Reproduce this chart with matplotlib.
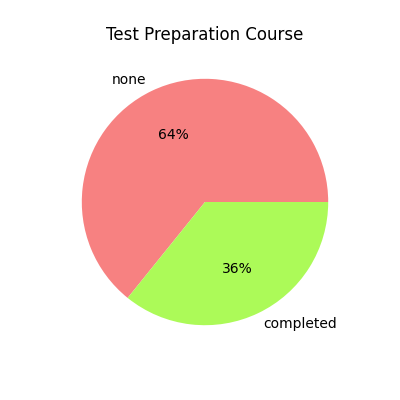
import matplotlib
matplotlib.use('Agg')
import matplotlib.pyplot as plt

labels = ['none', 'completed']
counts = [642, 358]
colors = ['#F78181', '#ACFA58']

plt.figure(figsize=(4, 4), dpi=100)
plt.pie(counts, labels=labels, colors=colors, autopct='%1.0f%%')
plt.title('Test Preparation Course')
plt.savefig('out.png', dpi=100)
